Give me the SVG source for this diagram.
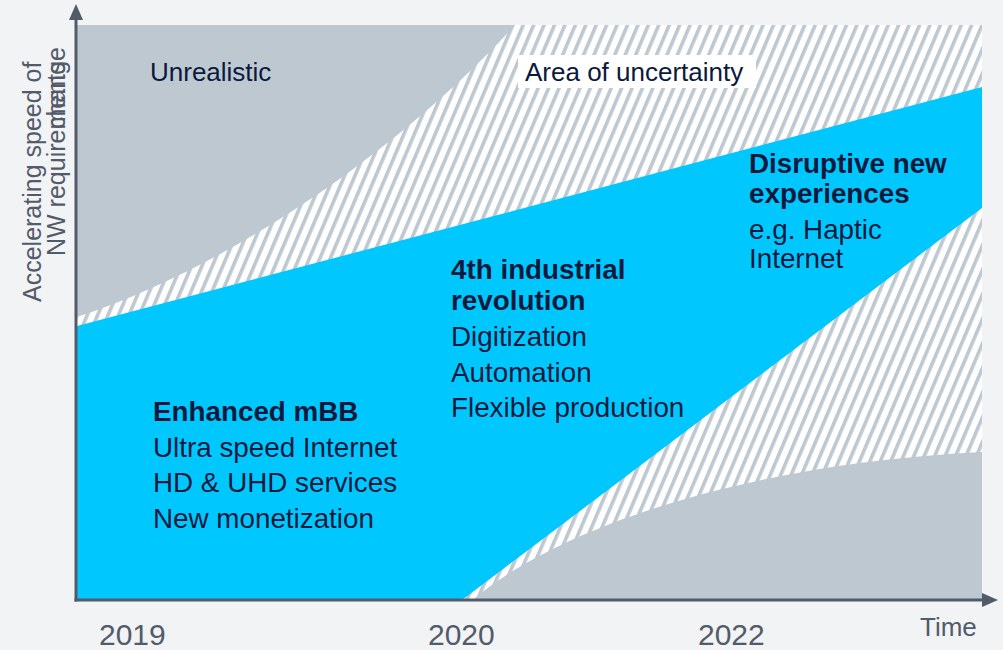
<svg xmlns="http://www.w3.org/2000/svg" width="1003" height="650" viewBox="0 0 1003 650">
  <style>
    .t { font-family: "Liberation Sans", Arial, sans-serif; fill: #0b1a3c; font-size: 27.8px; }
    .b { font-weight: bold; }
    .lbl { font-family: "Liberation Sans", Arial, sans-serif; fill: #0b1a3c; font-size: 26px; }
    .ax { font-family: "Liberation Sans", Arial, sans-serif; fill: #525b69; }
    .gray { fill: #bec8d1; }
    .blue { fill: #00c8ff; }
  </style>
  <defs>
    <pattern id="hatch" patternUnits="userSpaceOnUse" width="9.6" height="20" patternTransform="rotate(23)">
      <rect x="0" y="0" width="9.6" height="20" fill="#ffffff"/>
      <rect x="0" y="0" width="3.6" height="20" fill="#bec8d1"/>
    </pattern>
    <marker id="arr" viewBox="0 0 16 14" refX="2" refY="7" markerWidth="16" markerHeight="14" markerUnits="userSpaceOnUse" orient="auto">
      <path d="M0,0 L16,7 L0,14 Z" fill="#525b69"/>
    </marker>
  </defs>
  <rect x="0" y="0" width="1003" height="650" fill="#f2f3f5"/>

  <g id="area-uncertainty">
    <rect x="77" y="25" width="905" height="575" fill="url(#hatch)"/>
  </g>
  <g id="unrealistic-top">
    <path class="gray" d="M77,25 H515 C420,130 250,260 77,317 Z"/>
  </g>
  <g id="unrealistic-bottom">
    <path class="gray" d="M473,600 C540,540 720,465 982,452 V600 Z"/>
  </g>
  <g id="realistic-band">
    <path class="blue" d="M77,326 L982,87 V208 L462,600 H77 Z"/>
  </g>

  <g id="label-unrealistic">
    <text class="lbl" x="150" y="81">Unrealistic</text>
  </g>
  <g id="label-uncertainty">
    <rect x="518" y="55" width="238" height="33" fill="#ffffff"/>
    <text class="lbl" x="525" y="81">Area of uncertainty</text>
  </g>

  <g id="node-mbb">
    <text class="t b" x="153" y="421">Enhanced mBB</text>
    <text class="t" x="153" y="456.5">Ultra speed Internet</text>
    <text class="t" x="153" y="492">HD &amp; UHD services</text>
    <text class="t" x="153" y="527.5">New monetization</text>
  </g>
  <g id="node-industrial">
    <text class="t b" x="451" y="279">4th industrial</text>
    <text class="t b" x="451" y="310">revolution</text>
    <text class="t" x="451" y="346">Digitization</text>
    <text class="t" x="451" y="381.5">Automation</text>
    <text class="t" x="451" y="417">Flexible production</text>
  </g>
  <g id="node-disruptive">
    <text class="t b" x="749" y="173">Disruptive new</text>
    <text class="t b" x="749" y="203">experiences</text>
    <text class="t" x="749" y="239">e.g. Haptic</text>
    <text class="t" x="749" y="268">Internet</text>
  </g>

  <g id="axes">
    <line x1="76" y1="601.5" x2="76" y2="18" stroke="#525b69" stroke-width="3" marker-end="url(#arr)"/>
    <line x1="74.5" y1="600" x2="984" y2="600" stroke="#525b69" stroke-width="3" marker-end="url(#arr)"/>
  </g>

  <g id="axis-labels">
    <text class="ax" font-size="25" transform="translate(41,302) rotate(-90)">Accelerating speed of</text>
    <text class="ax" font-size="25" transform="translate(65,256) rotate(-90)">NW requirements</text>
    <text class="ax" font-size="25" text-anchor="end" transform="translate(65,47) rotate(-90)">change</text>
    <text class="ax" font-size="30" x="99" y="645">2019</text>
    <text class="ax" font-size="30" x="428" y="645">2020</text>
    <text class="ax" font-size="30" x="698" y="645">2022</text>
    <text class="ax" font-size="26" x="920" y="636">Time</text>
  </g>
</svg>
